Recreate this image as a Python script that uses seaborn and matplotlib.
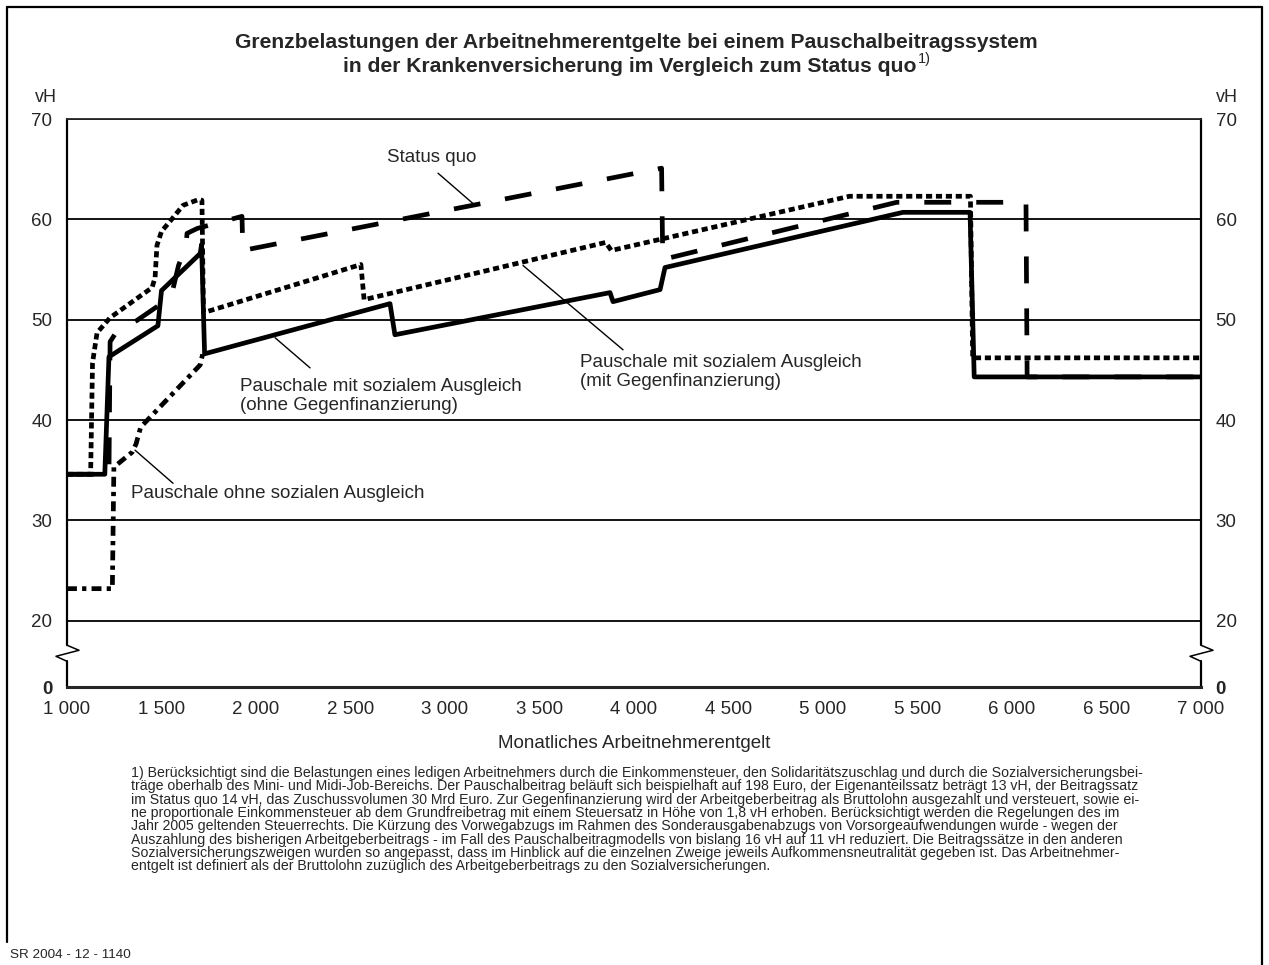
import matplotlib
matplotlib.use("Agg")
import matplotlib.pyplot as plt
import seaborn as sns
from matplotlib.lines import Line2D

# Werte (Euro / vH)
status_quo_x = [1000, 1222, 1228, 1262, 1360, 1476, 1555, 1590, 1630, 1635, 1690, 1926, 1930, 4146, 4152, 5390, 6074, 6080, 7000]
status_quo_y = [34.6, 34.6, 47.8, 48.8, 49.8, 51.3, 52.6, 55.4, 57.4, 58.6, 59.1, 60.3, 56.9, 65.1, 56.0, 61.7, 61.7, 44.3, 44.3]

ohne_gf_x = [1000, 1200, 1222, 1481, 1500, 1705, 1712, 1728, 2709, 2735, 3873, 3889, 4138, 4164, 5423, 5778, 5800, 7000]
ohne_gf_y = [34.6, 34.6, 46.3, 49.4, 52.9, 56.6, 57.5, 46.6, 51.6, 48.5, 52.7, 51.8, 53.0, 55.2, 60.7, 60.7, 44.3, 44.3]

mit_gf_x = [1000, 1125, 1135, 1159, 1228, 1450, 1466, 1476, 1500, 1545, 1614, 1700, 1714, 1722, 2555, 2572, 3850, 3880, 5140, 5780, 5792, 7000]
mit_gf_y = [34.6, 34.6, 45.7, 48.7, 50.2, 53.2, 54.2, 57.4, 58.8, 59.8, 61.4, 62.0, 61.9, 50.7, 55.5, 52.0, 57.7, 56.9, 62.3, 62.3, 46.2, 46.2]

ohne_sa_x = [1000, 1240, 1248, 1280, 1345, 1365, 1390, 1705, 1718]
ohne_sa_y = [23.2, 23.2, 35.3, 35.8, 36.8, 37.6, 39.3, 45.5, 46.6]

x_ticks = [1000, 1500, 2000, 2500, 3000, 3500, 4000, 4500, 5000, 5500, 6000, 6500, 7000]
x_labels = ["1 000", "1 500", "2 000", "2 500", "3 000", "3 500", "4 000", "4 500",
            "5 000", "5 500", "6 000", "6 500", "7 000"]
y_grid = [20, 30, 40, 50, 60, 70]
y_zero = 13.4  # Achsenbruch: hier steht die 0

title1 = "Grenzbelastungen der Arbeitnehmerentgelte bei einem Pauschalbeitragssystem"
title2 = "in der Krankenversicherung im Vergleich zum Status quo"

footnote = [
    "1) Berücksichtigt sind die Belastungen eines ledigen Arbeitnehmers durch die Einkommensteuer, den Solidaritätszuschlag und durch die Sozialversicherungsbei-",
    "träge oberhalb des Mini- und Midi-Job-Bereichs. Der Pauschalbeitrag beläuft sich beispielhaft auf 198 Euro, der Eigenanteilssatz beträgt 13 vH, der Beitragssatz",
    "im Status quo 14 vH, das Zuschussvolumen 30 Mrd Euro. Zur Gegenfinanzierung wird der Arbeitgeberbeitrag als Bruttolohn ausgezahlt und versteuert, sowie ei-",
    "ne proportionale Einkommensteuer ab dem Grundfreibetrag mit einem Steuersatz in Höhe von 1,8 vH erhoben. Berücksichtigt werden die Regelungen des im",
    "Jahr 2005 geltenden Steuerrechts. Die Kürzung des Vorwegabzugs im Rahmen des Sonderausgabenabzugs von Vorsorgeaufwendungen wurde - wegen der",
    "Auszahlung des bisherigen Arbeitgeberbeitrags - im Fall des Pauschalbeitragmodells von bislang 16 vH auf 11 vH reduziert. Die Beitragssätze in den anderen",
    "Sozialversicherungszweigen wurden so angepasst, dass im Hinblick auf die einzelnen Zweige jeweils Aufkommensneutralität gegeben ist. Das Arbeitnehmer-",
    "entgelt ist definiert als der Bruttolohn zuzüglich des Arbeitgeberbeitrags zu den Sozialversicherungen.",
]

sns.set_style("white")
plt.rcParams['font.family'] = ['Liberation Sans', 'DejaVu Sans']

W, H = 1269, 965
FS = 13.5
fig = plt.figure(figsize=(W / 100, H / 100), dpi=100)
ax = fig.add_axes([67 / W, 1 - 687 / H, (1201 - 67) / W, (687 - 119) / H])

LW = 3.4
common = dict(ax=ax, color="black", lw=LW, estimator=None, sort=False, legend=False)
sns.lineplot(x=ohne_sa_x, y=ohne_sa_y, linestyle=(0, (2.1, 1.1, 0.9, 1.1)), **common)
sns.lineplot(x=mit_gf_x, y=mit_gf_y, linestyle=(0, (1.3, 0.8)), **common)
sns.lineplot(x=status_quo_x, y=status_quo_y, linestyle=(0, (5.7, 5.3)), **common)
sns.lineplot(x=ohne_gf_x, y=ohne_gf_y, linestyle="-", **common)

ax.set_xlim(1000, 7000)
ax.set_ylim(y_zero, 70)
ax.set_xticks(x_ticks)
ax.set_xticklabels(x_labels, fontsize=FS)
ax.set_yticks([y_zero] + y_grid)
ax.set_yticklabels(["0"] + [str(v) for v in y_grid], fontsize=FS)
for t in ax.yaxis.get_major_ticks():
    t.label2.set_fontsize(FS)
first = ax.yaxis.get_major_ticks()[0]
first.label1.set_fontweight("bold")
first.label2.set_fontweight("bold")

ax.tick_params(axis="y", length=0, labelleft=True, labelright=True, pad=10.5)
ax.tick_params(axis="x", direction="out", length=6, width=1.3, pad=4)
for v in y_grid:
    ax.axhline(v, color="black", lw=1.3, zorder=0)

for s in ["left", "right"]:
    ax.spines[s].set_visible(False)
ax.spines["top"].set_linewidth(1.3)
ax.spines["bottom"].set_linewidth(2.2)

# senkrechte Achsen mit Bruchzeichen
tr = ax.get_yaxis_transform()
for x0 in [0, 1]:
    ax.add_line(Line2D([x0, x0], [70, 17.56], transform=tr, color="black", lw=1.6, clip_on=False))
    ax.add_line(Line2D([x0, x0 + 0.0106, x0 - 0.0097, x0], [17.56, 17.06, 16.46, 15.96],
                       transform=tr, color="black", lw=1.1, clip_on=False))
    ax.add_line(Line2D([x0, x0], [15.96, y_zero], transform=tr, color="black", lw=1.6, clip_on=False))

ax.set_xlabel("Monatliches Arbeitnehmerentgelt", fontsize=FS, labelpad=12)
ax.set_ylabel("")

# Beschriftungen mit Hinweislinien
lead = dict(arrowstyle="-", lw=1.0, color="black", shrinkA=0, shrinkB=0)
ax.text(2931, 66.2, "Status quo", fontsize=FS, ha="center", va="center")
ax.annotate("", xy=(3159, 61.4), xytext=(2963, 64.6), arrowprops=lead)
ax.text(3714, 44.8, "Pauschale mit sozialem Ausgleich\n(mit Gegenfinanzierung)", fontsize=FS,
        ha="left", va="center")
ax.annotate("", xy=(3413, 55.4), xytext=(3942, 47.0), arrowprops=lead)
ax.text(1915, 42.4, "Pauschale mit sozialem Ausgleich\n(ohne Gegenfinanzierung)", fontsize=FS,
        ha="left", va="center")
ax.annotate("", xy=(2101, 48.2), xytext=(2286, 45.2), arrowprops=lead)
ax.text(1339, 32.7, "Pauschale ohne sozialen Ausgleich", fontsize=FS, ha="left", va="center")
ax.annotate("", xy=(1360, 37.0), xytext=(1561, 33.7), arrowprops=lead)

fig.text(46 / W, 1 - 97 / H, "vH", fontsize=13, ha="center", va="center")
fig.text(1227 / W, 1 - 97 / H, "vH", fontsize=13, ha="center", va="center")

# Titel
fig.text(636 / W, 1 - 43 / H, title1, fontsize=15.2, weight="bold", ha="center", va="center")
t2 = fig.text(630 / W, 1 - 66 / H, title2, fontsize=15.2, weight="bold", ha="center", va="center")
fig.canvas.draw()
bb = t2.get_window_extent()
fig.text((bb.x1 + 1) / W, 1 - 52 / H, "1)", fontsize=10.5, ha="left", va="top")

# Fußnote
for i, line in enumerate(footnote):
    fig.text(131 / W, 1 - (773 + i * 13.35) / H, line, fontsize=10.2, ha="left", va="center")
fig.text(10 / W, 1 - 955 / H, "SR 2004 - 12 - 1140", fontsize=9.7, ha="left", va="center")

# Rahmen
fig.add_artist(Line2D([7 / W, 7 / W], [1 - 942 / H, 1 - 7 / H], color="black", lw=1.6))
fig.add_artist(Line2D([7 / W, 1262 / W], [1 - 7 / H, 1 - 7 / H], color="black", lw=1.6))
fig.add_artist(Line2D([1262 / W, 1262 / W], [1 - 7 / H, 0], color="black", lw=1.6))

fig.savefig("out.png", dpi=100)
